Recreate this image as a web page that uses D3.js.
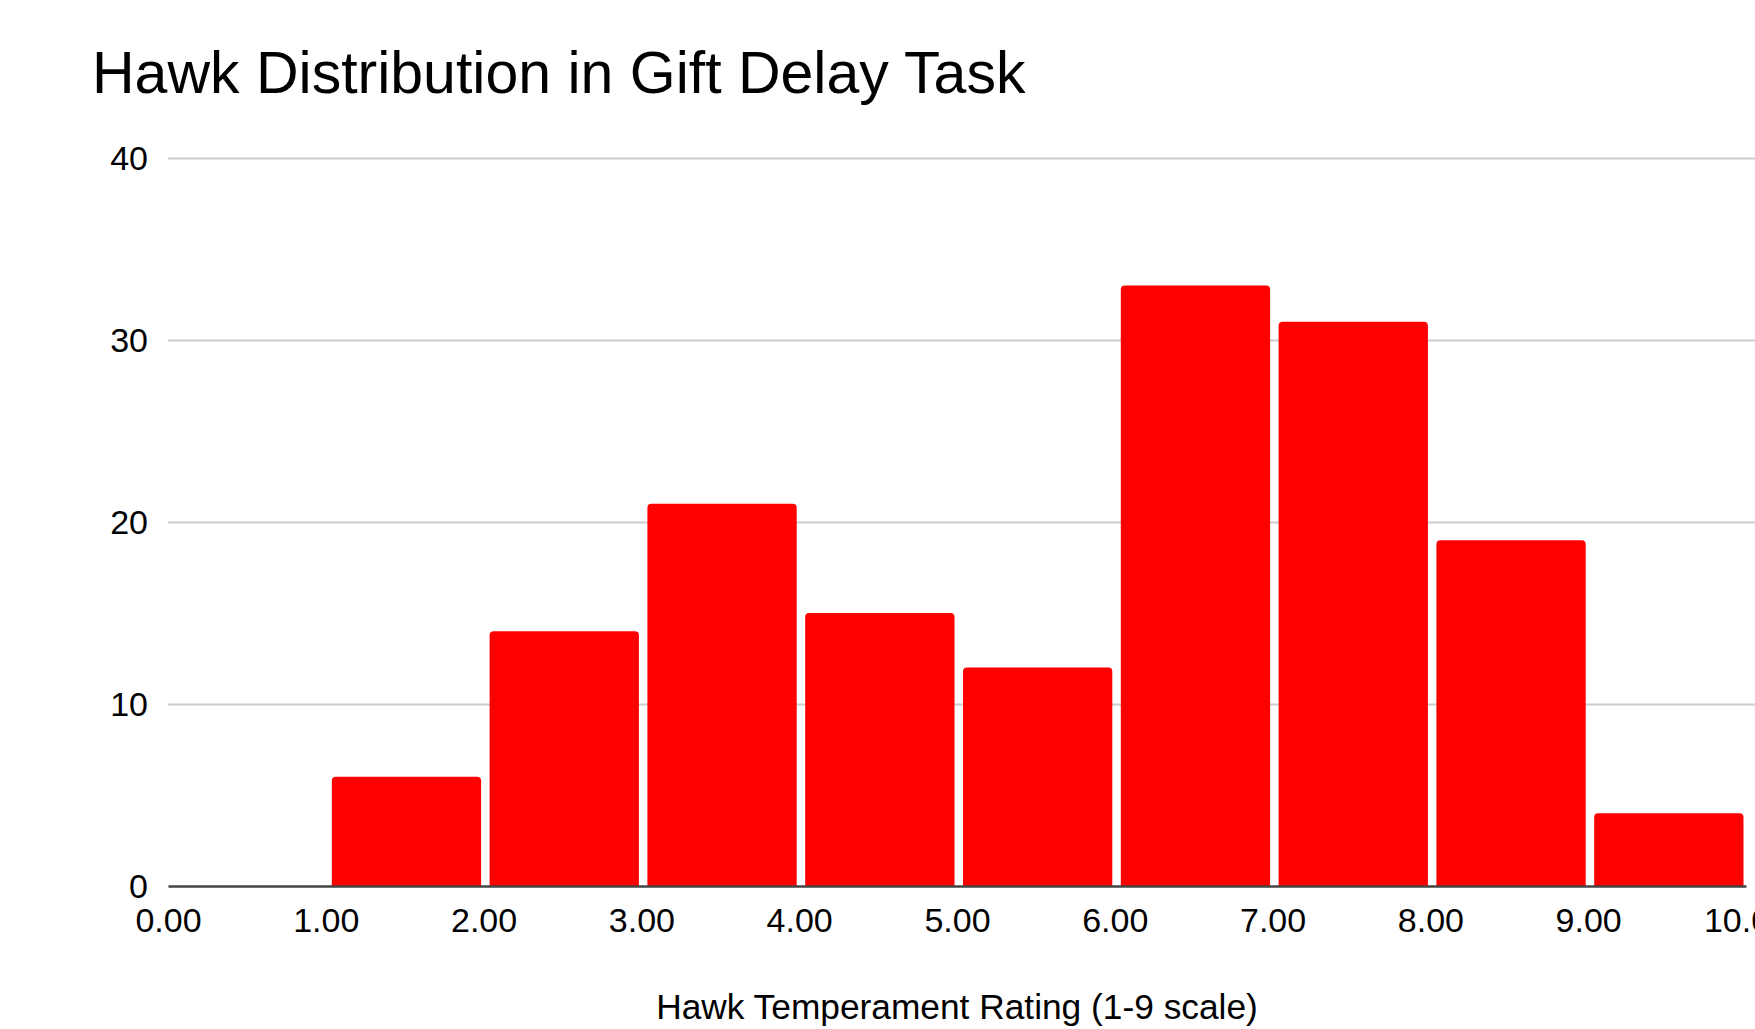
<!DOCTYPE html>
<html>
<head>
<meta charset="utf-8">
<script src="https://cdn.jsdelivr.net/npm/d3@7"></script>
<style>
  html, body { margin: 0; padding: 0; background: #ffffff; overflow: hidden; }
  svg { display: block; font-family: "Liberation Sans", Arial, Helvetica, sans-serif; }
</style>
</head>
<body>
<svg id="chart" width="1755" height="1029"></svg>
<script>
// ---- Data ----
const chartTitle = "Hawk Distribution in Gift Delay Task";
const xAxisTitle = "Hawk Temperament Rating (1-9 scale)";
const binStarts = [1, 2, 3, 4, 5, 6, 7, 8, 9];
const binEnds = [2, 3, 4, 5, 6, 7, 8, 9, 10];
const counts = [6, 14, 21, 15, 12, 33, 31, 19, 4];
const xTickValues = [0, 1, 2, 3, 4, 5, 6, 7, 8, 9, 10];
const yTickValues = [0, 10, 20, 30, 40];

// ---- Layout ----
const W = 1755, H = 1029;
const plotLeft = 168, plotRight = 1746, plotTop = 158, plotBottom = 886;

const svg = d3.select("#chart");
svg.append("rect").attr("width", W).attr("height", H).attr("fill", "#ffffff");

const x = d3.scaleLinear().domain([0, 10]).range([plotLeft, plotRight]);
const y = d3.scaleLinear().domain([0, 40]).range([plotBottom, plotTop]);

// Title
svg.append("text")
  .attr("x", 92).attr("y", 92.5)
  .attr("font-size", 59).attr("fill", "#000")
  .text(chartTitle);

// Y axis with gridlines
const yAxis = d3.axisLeft(y)
  .tickValues(yTickValues)
  .tickSize(-(W - plotLeft))
  .tickPadding(20)
  .tickFormat(d3.format("d"));
const gy = svg.append("g").attr("transform", `translate(${plotLeft},0)`).call(yAxis);
gy.select(".domain").remove();
gy.selectAll(".tick line").attr("stroke", "#cccccc").attr("stroke-width", 2)
  .filter(d => d === 0).remove();
gy.selectAll(".tick text")
  .attr("font-size", 34).attr("fill", "#000")
  .attr("font-family", "Liberation Sans, Arial, sans-serif")
  .attr("x", 148 - plotLeft).attr("dy", "0.35em");

// Bars
const r = 4;
function barPath(i) {
  const x0 = x(binStarts[i]) + 6;
  const x1 = x(binEnds[i]) - 2.5;
  const yt = y(counts[i]);
  const yb = y(0);
  const rr = Math.min(r, (yb - yt));
  return `M${x0},${yb}V${yt + rr}Q${x0},${yt} ${x0 + rr},${yt}H${x1 - rr}Q${x1},${yt} ${x1},${yt + rr}V${yb}Z`;
}
svg.append("g").selectAll("path")
  .data(counts)
  .join("path")
  .attr("d", (d, i) => barPath(i))
  .attr("fill", "#ff0000");

// X axis
const xAxis = d3.axisBottom(x)
  .tickValues(xTickValues)
  .tickSize(0)
  .tickPadding(0)
  .tickFormat(d3.format(".2f"));
const gx = svg.append("g").attr("transform", `translate(0,${plotBottom})`).call(xAxis);
gx.select(".domain").attr("stroke", "#444444").attr("stroke-width", 2.5);
gx.selectAll(".tick text")
  .attr("font-size", 34).attr("fill", "#000")
  .attr("font-family", "Liberation Sans, Arial, sans-serif")
  .attr("y", 45.5).attr("dy", null);

// X axis title
svg.append("text")
  .attr("x", (plotLeft + plotRight) / 2).attr("y", 1019)
  .attr("text-anchor", "middle")
  .attr("font-size", 35.3).attr("fill", "#000")
  .text(xAxisTitle);
</script>
</body>
</html>
